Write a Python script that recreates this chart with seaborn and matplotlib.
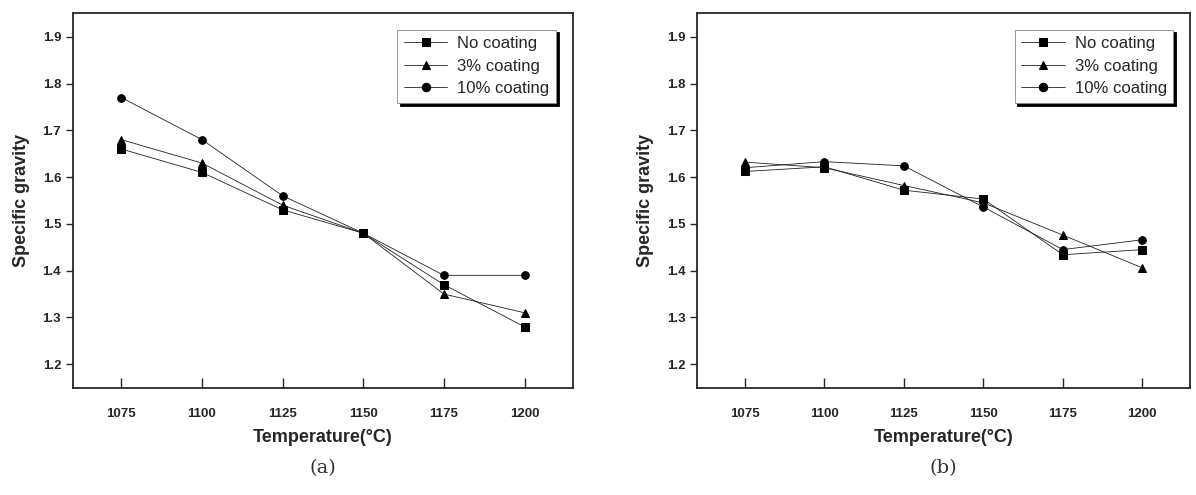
import numpy as np
import pandas as pd
import matplotlib
matplotlib.use('Agg')
import seaborn as sns
import matplotlib.pyplot as plt

temps = [1075, 1100, 1125, 1150, 1175, 1200]
series_names = ['No coating', '3% coating', '10% coating']

# (a)
a_none = [1.66, 1.61, 1.53, 1.48, 1.37, 1.28]
a_3pct = [1.68, 1.63, 1.54, 1.48, 1.35, 1.31]
a_10pct = [1.77, 1.68, 1.56, 1.48, 1.39, 1.39]

# (b)
b_none = [1.612, 1.622, 1.572, 1.553, 1.434, 1.445]
b_3pct = [1.632, 1.620, 1.582, 1.545, 1.476, 1.406]
b_10pct = [1.620, 1.633, 1.624, 1.536, 1.445, 1.466]

yticks = [1.2, 1.3, 1.4, 1.5, 1.6, 1.7, 1.8, 1.9]
panel_labels = ['(a)', '(b)']

sns.set_style('ticks')
plt.rcParams['font.family'] = ['Liberation Sans', 'DejaVu Sans']


def make_df(none, p3, p10):
    rows = []
    for name, vals in zip(series_names, [none, p3, p10]):
        for t, v in zip(temps, vals):
            rows.append({'Temperature': t, 'Specific gravity': v, 'Sample': name})
    return pd.DataFrame(rows)


data_a = make_df(a_none, a_3pct, a_10pct)
data_b = make_df(b_none, b_3pct, b_10pct)

fig = plt.figure(figsize=(11.96, 4.95), dpi=100)
ax1 = fig.add_axes([0.061, 0.216, 0.418, 0.758])
ax2 = fig.add_axes([0.583, 0.216, 0.412, 0.758])

markers = {'No coating': 's', '3% coating': '^', '10% coating': 'o'}
pal = {'No coating': '#222222', '3% coating': '#222222', '10% coating': '#222222'}

for ax, data, lab in zip([ax1, ax2], [data_a, data_b], panel_labels):
    sns.lineplot(data=data, x='Temperature', y='Specific gravity', hue='Sample',
                 style='Sample', markers=markers, dashes=False, palette=pal,
                 linewidth=0.6, markersize=5.5, markeredgecolor='black',
                 markerfacecolor='black', ax=ax)
    ax.set_xlim(1060, 1215)
    ax.set_ylim(1.149, 1.951)
    ax.set_xticks(temps)
    ax.set_yticks(yticks)
    ax.set_xticklabels([str(t) for t in temps], fontsize=9.5, fontweight='bold')
    ax.set_yticklabels(['%.1f' % y for y in yticks], fontsize=9.5, fontweight='bold')
    ax.tick_params(axis='x', direction='in', length=7, width=1, pad=14)
    ax.tick_params(axis='y', direction='out', length=5, width=1)
    for s in ax.spines.values():
        s.set_linewidth(1.3)
        s.set_visible(True)
    ax.set_xlabel('Temperature(\u00b0C)', fontsize=13, fontweight='bold', labelpad=7)
    ax.set_ylabel('Specific gravity', fontsize=13, fontweight='bold', labelpad=9)
    leg = ax.legend(loc='upper right', fontsize=12, frameon=True, fancybox=False,
                    shadow={'color': 'black', 'alpha': 1}, handlelength=2.6,
                    borderaxespad=1.0, labelspacing=0.45, handletextpad=0.6,
                    markerscale=1.1)
    leg.get_frame().set_edgecolor('#888888')
    leg.get_frame().set_linewidth(0.6)
    leg.get_frame().set_alpha(1)
    ax.text(0.5, -0.19, lab, transform=ax.transAxes, ha='center', va='top',
            fontsize=14, family='DejaVu Serif', color='#333333')

fig.savefig('out.png', dpi=100)
